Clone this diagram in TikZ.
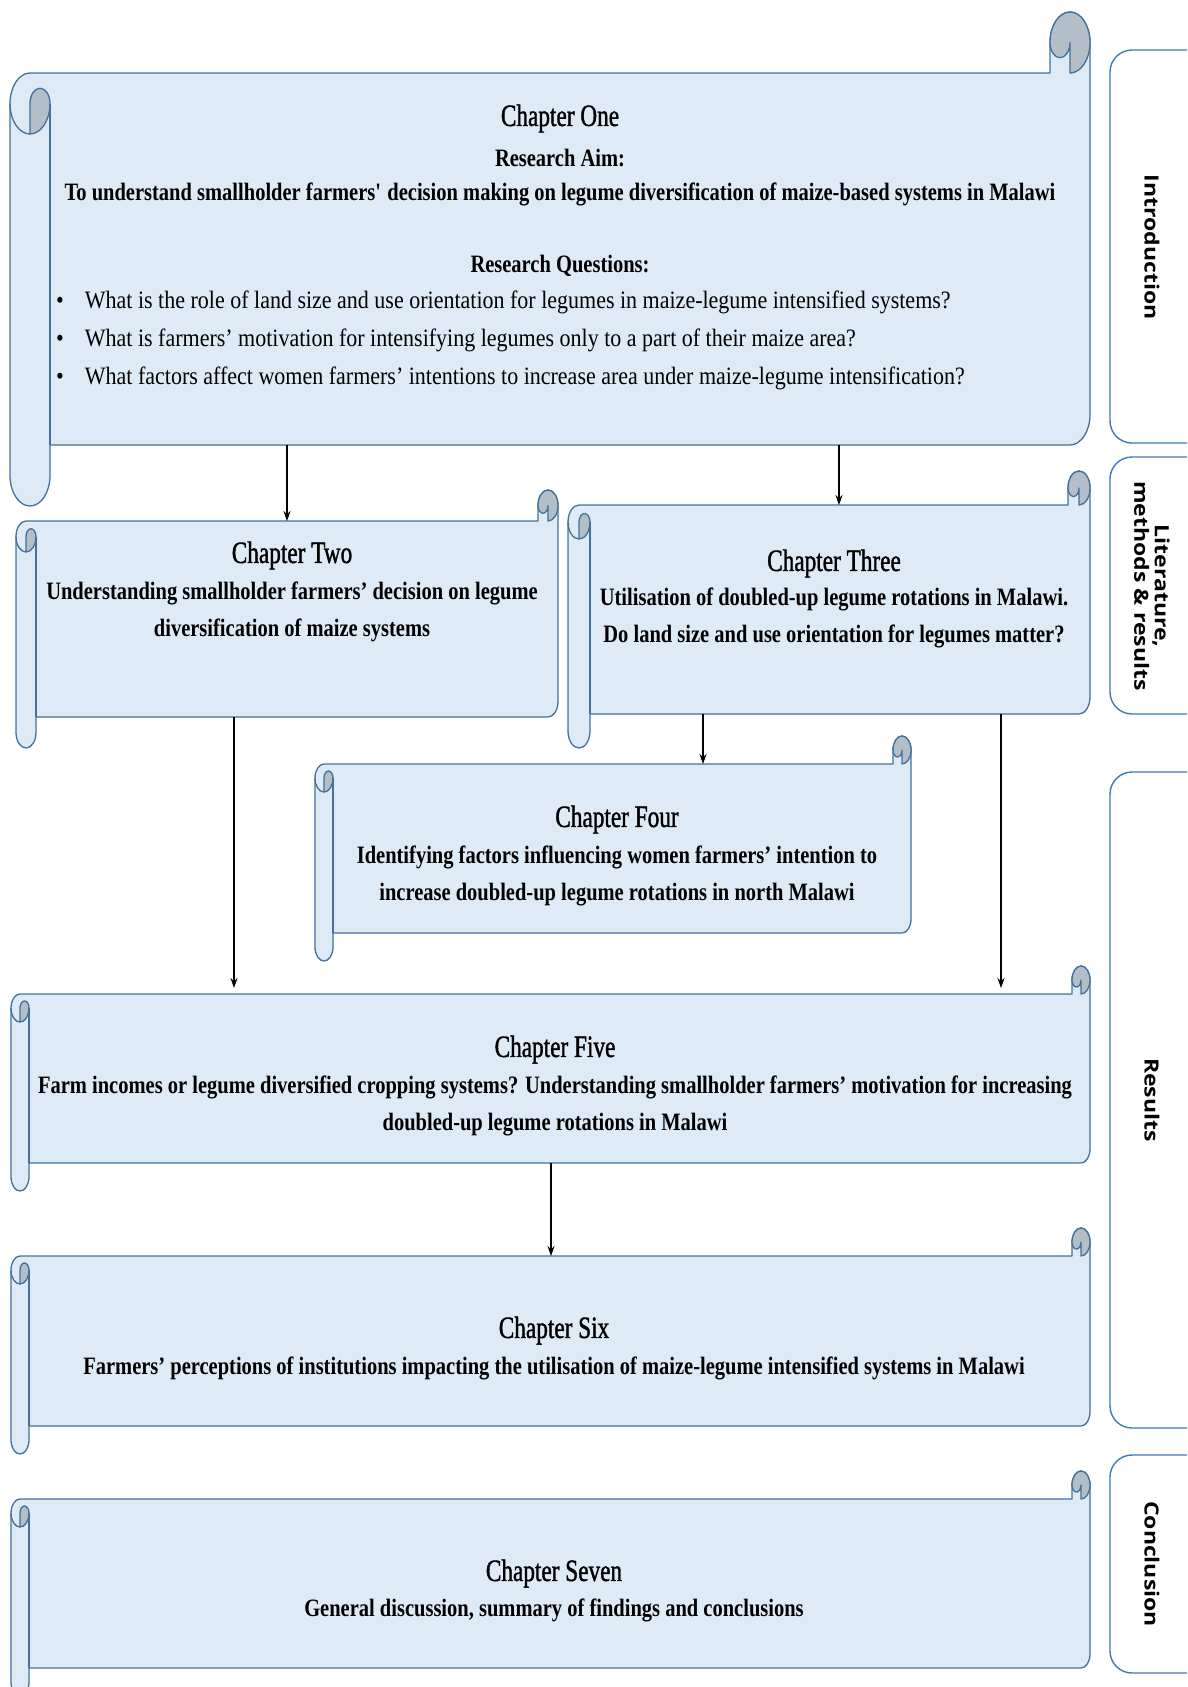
\documentclass[tikz,border=0pt]{standalone}
\usepackage{fontspec}
\setmainfont{Liberation Serif}[FakeStretch=0.82]
\newfontfamily\titlefont{Liberation Serif}[FakeStretch=0.75,FakeBold=1.2]
\newfontfamily\qfont{Liberation Serif}[FakeStretch=0.88]
\newfontfamily\sidefont{Open Sans}
\usetikzlibrary{arrows.meta}

% horizontal scroll: name, left, right, top, bottom, roll width, roll height
\newcommand{\Scroll}[7]{%
  \pgfmathsetmacro{\rolL}{#2}\pgfmathsetmacro{\rolR}{#3}%
  \pgfmathsetmacro{\rolT}{-#4}\pgfmathsetmacro{\rolB}{-#5}%
  \pgfmathsetmacro{\rolX}{#6/2}\pgfmathsetmacro{\rolY}{#7/2}%
  \pgfmathsetmacro{\yBT}{\rolT-#7}\pgfmathsetmacro{\yBB}{\rolB+#7}%
  \pgfmathsetmacro{\yLC}{\yBT-\rolY}\pgfmathsetmacro{\yRC}{\rolT-\rolY}%
  \pgfmathsetmacro{\xLi}{\rolL+#6}\pgfmathsetmacro{\xLc}{\rolL+\rolX}%
  \pgfmathsetmacro{\xRc}{\rolR-\rolX}\pgfmathsetmacro{\xRo}{\rolR-#6}%
  \filldraw[scrollbody] (\rolL,\yLC) arc[start angle=180,end angle=90,x radius=\rolX,y radius=\rolY]
    -- (\xRo,\yBT) -- (\xRo,\yRC) arc[start angle=180,end angle=0,x radius=\rolX,y radius=\rolY]
    -- (\rolR,{\yBB+\rolY}) arc[start angle=0,end angle=-90,x radius=\rolX,y radius=\rolY]
    -- (\xLi,\yBB) -- (\xLi,{\rolB+\rolY}) arc[start angle=0,end angle=-180,x radius=\rolX,y radius=\rolY] -- cycle;
  \filldraw[scrollcurl] (\xRo,\yRC) arc[start angle=180,end angle=-90,x radius=\rolX,y radius=\rolY]
    -- (\xRc,\yRC) arc[start angle=0,end angle=-180,x radius={\rolX/2},y radius={\rolY/2}] -- cycle;
  \draw[scrollline] (\rolL,\yLC) arc[start angle=180,end angle=270,x radius=\rolX,y radius=\rolY];
  \filldraw[scrollcurl] (\xLc,{\yLC-\rolY}) arc[start angle=-90,end angle=0,x radius=\rolX,y radius=\rolY]
    arc[start angle=0,end angle=180,x radius={\rolX/2},y radius={\rolY/2}] -- cycle;
  \draw[scrollline] (\xLi,\yLC) -- (\xLi,\yBB);
  \coordinate (#1-top) at ({(\rolL+\rolR)/2},\yBT);
  \coordinate (#1-bot) at ({(\rolL+\rolR)/2},\yBB);
}

\begin{document}
\begin{tikzpicture}[x=1pt,y=1pt,
    scrollline/.style={draw=scrollblue,line width=1.3pt,line join=round},
    scrollbody/.style={scrollline,fill=scrollfill},
    scrollcurl/.style={scrollline,fill=curlgray},
    sidebox/.style={draw=sideblue,fill=white,line width=1.4pt,rounded corners=22pt},
    side/.style={font=\sidefont\bfseries\fontsize{23}{24}\selectfont,align=center,xscale=0.85,rotate=-90},
    title/.style={font=\titlefont\fontsize{31}{36}\selectfont},
    desc/.style={font=\bfseries\fontsize{25}{37}\selectfont,align=center},
    qtext/.style={font=\qfont\fontsize{25}{37}\selectfont,anchor=west,inner sep=0pt},
    arr/.style={-{Stealth[length=10pt,width=7pt]},line width=1.4pt}]
\definecolor{scrollfill}{HTML}{DEEAF6}
\definecolor{scrollblue}{HTML}{41719C}
\definecolor{curlgray}{HTML}{B4BEC9}
\definecolor{sideblue}{HTML}{3F78C0}
\useasboundingbox (0,0) rectangle (1187,-1687);
\clip (0,0) rectangle (1187,-1687);
%% Side panels ------
\draw[sidebox] (1110,-50) rectangle (1240,-443);
\draw[sidebox] (1110,-457) rectangle (1240,-714);
\draw[sidebox] (1110,-772) rectangle (1240,-1428);
\draw[sidebox] (1110,-1455) rectangle (1240,-1673);
\node[side] (intro) at (1152,-247) {Introduction};
\node[side] (lit) at (1152,-586) {Literature,\\methods \& results};
\node[side] (res) at (1152,-1100) {Results};
\node[side] (concl) at (1152,-1564) {Conclusion};
%% Scrolls ------
\Scroll{one}{10}{1090}{12}{506}{40}{61}
\Scroll{two}{16}{558}{490}{748}{20}{31}
\Scroll{three}{568}{1090}{471}{748}{22}{34}
\Scroll{four}{315}{911}{736}{961}{18}{28}
\Scroll{five}{11}{1090}{966}{1191}{18}{28}
\Scroll{six}{11}{1090}{1228}{1454}{18}{28}
\Scroll{seven}{11}{1090}{1471}{1696}{18}{28}
%% Texts ------
\node[title] (t1) at (560,-118.5) {Chapter One};
\node[desc] (aim) at (560,-157.5) {Research Aim:};
\node[desc] (aimtext) at (560,-194.5) {To understand smallholder farmers\textquotesingle{} decision making on legume diversification of maize-based systems in Malawi};
\node[desc] (rq) at (560,-265.5) {Research Questions:};
\node[qtext] (q1) at (56,-302.5) {\textbullet\hspace{21pt}What is the role of land size and use orientation for legumes in maize-legume intensified systems?};
\node[qtext] (q2) at (56,-340.5) {\textbullet\hspace{21pt}What is farmers’ motivation for intensifying legumes only to a part of their maize area?};
\node[qtext] (q3) at (56,-378.5) {\textbullet\hspace{21pt}What factors affect women farmers’ intentions to increase area under maize-legume intensification?};
\node[title] (t2) at (292,-555.5) {Chapter Two};
\node[desc] (d2) at (292,-611.5) {Understanding smallholder farmers’ decision on legume\\diversification of maize systems};
\node[title] (t3) at (834,-563.5) {Chapter Three};
\node[desc] (d3) at (834,-618) {Utilisation of doubled-up legume rotations in Malawi.\\Do land size and use orientation for legumes matter?};
\node[title] (t4) at (617,-819.5) {Chapter Four};
\node[desc] (d4) at (617,-876) {Identifying factors influencing women farmers’ intention to\\increase doubled-up legume rotations in north Malawi};
\node[title] (t5) at (555,-1049.5) {Chapter Five};
\node[desc] (d5) at (555,-1105.5) {Farm incomes or legume diversified cropping systems? Understanding smallholder farmers’ motivation for increasing\\doubled-up legume rotations in Malawi};
\node[title] (t6) at (554,-1330.5) {Chapter Six};
\node[desc] (d6) at (554,-1368.5) {Farmers’ perceptions of institutions impacting the utilisation of maize-legume intensified systems in Malawi};
\node[title] (t7) at (554,-1573.5) {Chapter Seven};
\node[desc] (d7) at (554,-1610.5) {General discussion, summary of findings and conclusions};
%% Arrows ------
\draw[arr] (287,0 |- one-bot) -- (287,0 |- two-top);
\draw[arr] (839,0 |- one-bot) -- (839,0 |- three-top);
\draw[arr,shorten >=6pt] (234,0 |- two-bot) -- (234,0 |- five-top);
\draw[arr] (703,0 |- three-bot) -- (703,0 |- four-top);
\draw[arr,shorten >=6pt] (1001,0 |- three-bot) -- (1001,0 |- five-top);
\draw[arr] (551,0 |- five-bot) -- (551,0 |- six-top);
\end{tikzpicture}
\end{document}
